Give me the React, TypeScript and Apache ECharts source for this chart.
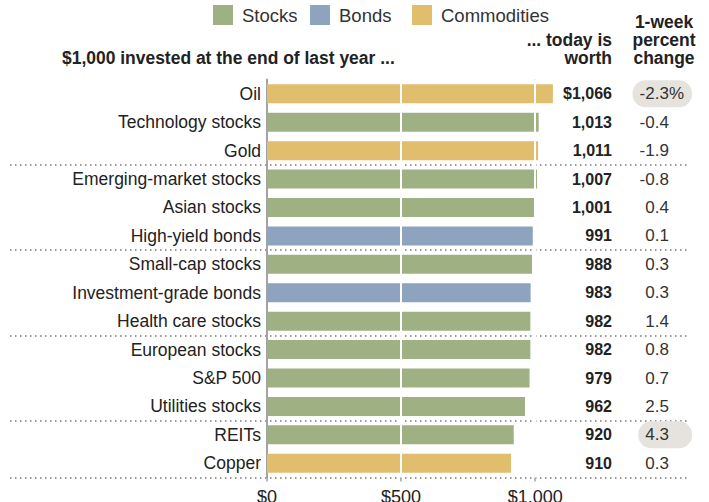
import React, { useEffect, useRef } from 'react';
import * as echarts from 'echarts';

const categories = [
  'Oil',
  'Technology stocks',
  'Gold',
  'Emerging-market stocks',
  'Asian stocks',
  'High-yield bonds',
  'Small-cap stocks',
  'Investment-grade bonds',
  'Health care stocks',
  'European stocks',
  'S&P 500',
  'Utilities stocks',
  'REITs',
  'Copper',
];
const assetTypes = [
  'Commodities', 'Stocks', 'Commodities', 'Stocks', 'Stocks', 'Bonds', 'Stocks',
  'Bonds', 'Stocks', 'Stocks', 'Stocks', 'Stocks', 'Stocks', 'Commodities',
];
const worth = [1066, 1013, 1011, 1007, 1001, 991, 988, 983, 982, 982, 979, 962, 920, 910];
const weekChange = [-2.3, -0.4, -1.9, -0.8, 0.4, 0.1, 0.3, 0.3, 1.4, 0.8, 0.7, 2.5, 4.3, 0.3];
const highlighted = ['Oil', 'REITs'];
const groupStarts = ['Emerging-market stocks', 'Small-cap stocks', 'European stocks', 'REITs'];
const legendNames = ['Stocks', 'Bonds', 'Commodities'];
const xTicks = [0, 500, 1000];
const whiteGridValues = [500, 1000];
const grayGridValues = [1000];

const FONT = '"Liberation Sans", Arial, Helvetica, sans-serif';
const colors: Record<string, string> = {
  Stocks: '#9fb083',
  Bonds: '#8ea3bd',
  Commodities: '#e0be6e',
};
const legendLefts = [208, 305, 407];

export default function App() {
  const ref = useRef<HTMLDivElement>(null);
  useEffect(() => {
    const chart = echarts.init(ref.current!, null, { renderer: 'svg' });
    const gridTop = 79.6;
    const gridBottom = 24.5;

    const series: any[] = legendNames.map((t, k) => {
      const s: any = {
        name: t,
        type: 'bar',
        stack: 'all',
        barWidth: 19,
        xAxisIndex: 0,
        yAxisIndex: 0,
        itemStyle: { color: colors[t] },
        data: worth.map((v, i) => (assetTypes[i] === t ? v : '-')),
      };
      if (k === 0) {
        s.markLine = {
          silent: true,
          symbol: 'none',
          z: 5,
          label: { show: false },
          lineStyle: { color: '#ffffff', width: 2, type: 'solid' },
          data: whiteGridValues.map((v) => ({ xAxis: v })),
        };
      } else if (k === 1) {
        s.markLine = {
          silent: true,
          symbol: 'none',
          z: 1,
          label: { show: false },
          lineStyle: { color: '#b0b0b0', width: 1.5, type: 'solid' },
          data: grayGridValues.map((v) => ({ xAxis: v })),
        };
      }
      return s;
    });

    const pctRich: any = {
      n: { fontFamily: FONT, fontSize: 17, color: '#333', padding: [4, 0, 4, 7] },
      g: { fontFamily: FONT, fontSize: 17, color: 'rgba(0,0,0,0)', padding: [4, 8, 4, 0] },
      hl: {
        fontFamily: FONT, fontSize: 17, color: '#333', padding: [5, 0, 5, 7],
        backgroundColor: '#e6e3df', borderRadius: [13, 0, 0, 13],
      },
      hr: {
        fontFamily: FONT, fontSize: 17, color: 'rgba(0,0,0,0)', padding: [5, 8, 5, 0],
        backgroundColor: '#e6e3df', borderRadius: [0, 13, 13, 0],
      },
      hv: {
        fontFamily: FONT, fontSize: 17, color: '#333', padding: [5, 8, 5, 0],
        backgroundColor: '#e6e3df', borderRadius: [0, 13, 13, 0],
      },
    };

    const headerFont = `bold 18px ${FONT}`;
    const header = (text: string, x: number, y: number, align: string) => ({
      type: 'text',
      x,
      y,
      scaleX: 0.97,
      scaleY: 1.05,
      style: {
        text, x: 0, y: 0, textAlign: align, textVerticalAlign: 'middle',
        font: headerFont, fill: '#222',
      },
    });

    const option: any = {
      animation: false,
      backgroundColor: '#ffffff',
      legend: legendNames.map((name, k) => ({
        data: [name],
        left: legendLefts[k],
        top: 0,
        itemWidth: 20,
        itemHeight: 20,
        icon: 'rect',
        selectedMode: false,
        textStyle: { fontFamily: FONT, fontSize: 18.5, color: '#333', padding: [0, 0, 0, 4] },
      })),
      grid: [
        { left: 267, right: 147, top: gridTop, bottom: gridBottom, outerBoundsMode: 'none', containLabel: false },
        { left: 10, right: 19, top: gridTop, bottom: gridBottom, outerBoundsMode: 'none', containLabel: false },
      ],
      xAxis: [
        {
          type: 'value',
          gridIndex: 0,
          min: 0,
          max: 1100,
          interval: 500,
          axisLine: { show: false },
          splitLine: { show: false },
          axisTick: {
            show: true,
            customValues: xTicks,
            length: 4,
            lineStyle: { color: '#a3a3a3', width: 1.5 },
          },
          axisLabel: {
            customValues: xTicks,
            formatter: (v: number) => '$' + Number(v).toLocaleString('en-US'),
            fontFamily: FONT,
            fontSize: 18,
            color: '#222',
            margin: 10,
          },
        },
        { type: 'value', gridIndex: 1, show: false },
      ],
      yAxis: [
        {
          type: 'category',
          gridIndex: 0,
          data: categories,
          inverse: true,
          axisLine: { show: true, lineStyle: { color: '#a3a3a3', width: 2 } },
          axisTick: { show: false },
          splitLine: { show: false },
          axisLabel: { fontFamily: FONT, fontSize: 17.5, color: '#222', margin: 6 },
        },
        {
          type: 'category',
          gridIndex: 0,
          data: categories,
          inverse: true,
          position: 'right',
          axisLine: { show: false },
          axisTick: { show: false },
          splitLine: { show: false },
          axisLabel: {
            align: 'right',
            margin: 50,
            fontFamily: FONT,
            fontSize: 16,
            fontWeight: 'bold',
            color: '#222',
            formatter: (_v: string, i: number) =>
              (i === 0 ? '$' : '') + worth[i].toLocaleString('en-US'),
          },
        },
        {
          type: 'category',
          gridIndex: 0,
          data: categories,
          inverse: true,
          position: 'right',
          axisLine: { show: false },
          axisTick: { show: false },
          splitLine: { show: false },
          axisLabel: {
            align: 'right',
            margin: 130,
            rich: pctRich,
            formatter: (v: string, i: number) => {
              const txt = weekChange[i].toFixed(1);
              if (highlighted.includes(v)) {
                return i === 0 ? `{hl|${txt}}{hv|%}` : `{hl|${txt}}{hr|%}`;
              }
              return `{n|${txt}}{g|%}`;
            },
          },
        },
        {
          type: 'category',
          gridIndex: 1,
          data: categories,
          inverse: true,
          axisLine: { show: false },
          axisTick: { show: false },
          axisLabel: { show: false },
          splitLine: {
            show: true,
            interval: (_i: number, v: string) => groupStarts.includes(v),
            lineStyle: { color: '#777', width: 1.5, type: [1.5, 3.5] },
          },
        },
      ],
      graphic: [
        header('$1,000 invested at the end of last year ...', 62, 58, 'left'),
        header('... today is', 612, 40, 'right'),
        header('worth', 612, 58, 'right'),
        header('1-week', 664, 22, 'center'),
        header('percent', 664, 40, 'center'),
        header('change', 664, 58, 'center'),
      ],
      series,
    };
    chart.setOption(option);
    return () => chart.dispose();
  }, []);
  return (
    <div
      ref={ref}
      style={{ position: 'fixed', left: 0, top: 0, width: 709, height: 502, background: '#fff' }}
    />
  );
}
